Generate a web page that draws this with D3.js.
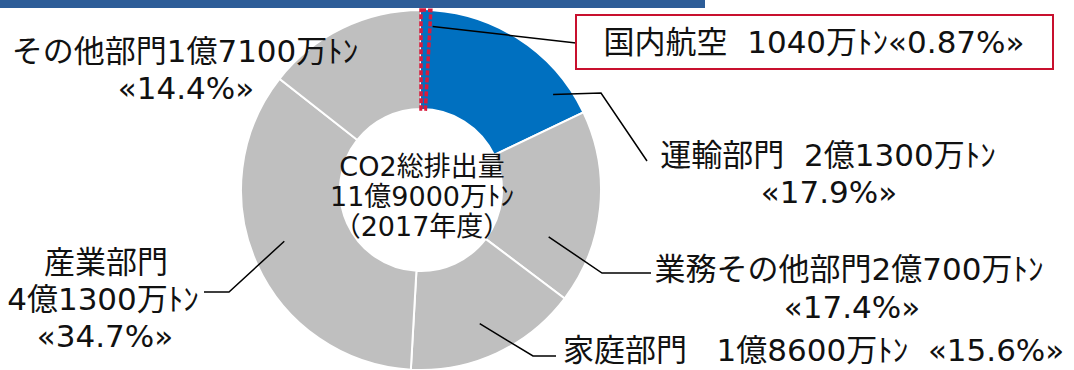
<!DOCTYPE html>
<html>
<head>
<meta charset="utf-8">
<script src="https://cdn.jsdelivr.net/npm/d3@7"></script>
<style>
  html, body { margin: 0; padding: 0; background: #fff; }
  svg { display: block; }
  text { font-family: "DejaVu Sans", "Noto Sans CJK JP", sans-serif; fill: #111; }
</style>
</head>
<body>
<svg id="chart" width="1074" height="370"></svg>
<script>
// CO2 emissions by sector, FY2017 (share of total, %)
const sectors = ["運輸部門", "業務その他部門", "家庭部門", "産業部門", "その他部門"];
const shares = [17.9, 17.4, 15.6, 34.7, 14.4];
const amounts = ["2億1300万", "2億700万", "1億8600万", "4億1300万", "1億7100万"];
const highlighted = ["運輸部門"];

// Domestic aviation, a part of the transport sector
const aviationName = "国内航空";
const aviationShare = [0.87];
const aviationAmount = "1040万";

const totalLines = ["CO2総排出量", "11億9000万ﾄﾝ", "（2017年度）"];
const unit = "ﾄﾝ";

const cx = 421, cy = 190, rOuter = 180, rInner = 81;

const svg = d3.select("#chart");

// header bar
svg.append("rect").attr("x", 0).attr("y", 0).attr("width", 705).attr("height", 8).attr("fill", "#2d5d98");

const g = svg.append("g").attr("transform", `translate(${cx},${cy})`);

const pie = d3.pie().sort(null).value(d => d.share);
const data = sectors.map((s, i) => ({ name: s, share: shares[i], amount: amounts[i] }));
const arcs = pie(data);
const arc = d3.arc().innerRadius(rInner).outerRadius(rOuter);

g.selectAll("path.slice")
  .data(arcs)
  .join("path")
  .attr("class", "slice")
  .attr("d", arc)
  .attr("fill", d => highlighted.includes(d.data.name) ? "#0070c0" : "#bfbfbf")
  .attr("stroke", "#fff")
  .attr("stroke-width", 2);

// aviation sliver, outlined in red dashes inside the transport slice
const total = d3.sum(shares);
const avEnd = aviationShare[0] / total * 2 * Math.PI;
g.append("path")
  .attr("d", d3.arc().innerRadius(rInner).outerRadius(rOuter)({ startAngle: 0, endAngle: avEnd }))
  .attr("fill", "#0070c0")
  .attr("stroke", "#d81b3c")
  .attr("stroke-width", 3.5)
  .attr("stroke-dasharray", "5,2");

// point at angle a (clockwise from 12 o'clock), radius r
function polar(a, r) {
  return [cx + r * Math.sin(a), cy - r * Math.cos(a)];
}
function inSlice(i, t, r) {
  const d = arcs[i];
  return polar(d.startAngle + (d.endAngle - d.startAngle) * t, r);
}

// centre text
const ct = svg.append("g");
[176, 206, 236].forEach((y, i) => {
  ct.append("text").attr("x", cx + 1).attr("y", y).attr("text-anchor", "middle")
    .attr("font-size", 27).text(totalLines[i]);
});

// leader lines
const line = d3.line();
const leaders = [
  [inSlice(0, 0.84, 163), [601, 93], [647, 161]],
  [inSlice(1, 0.73, 136), [602, 273], [651, 273]],
  [inSlice(2, 0.52, 146), [533, 356], [556, 356]],
  [inSlice(3, 0.53, 146), [229, 292], [204, 292]],
];
svg.selectAll("path.leader")
  .data(leaders)
  .join("path")
  .attr("class", "leader")
  .attr("d", line)
  .attr("fill", "none")
  .attr("stroke", "#000")
  .attr("stroke-width", 1.5);

// aviation callout
const avStart = polar(avEnd * 1.3, 164);
svg.append("path").attr("d", line([avStart, [576, 43]]))
  .attr("fill", "none").attr("stroke", "#000").attr("stroke-width", 1.5);
svg.append("rect").attr("x", 576).attr("y", 15).attr("width", 477).attr("height", 54)
  .attr("fill", "#fff").attr("stroke", "#c8102e").attr("stroke-width", 2);

function pct(v) { return "«" + v + "%»"; }

function label(x, y, anchor, str, fs = 31) {
  svg.append("text").attr("x", x).attr("y", y).attr("text-anchor", anchor)
    .attr("font-size", fs).attr("xml:space", "preserve").text(str);
}

label(814, 53, "middle", aviationName + "  " + aviationAmount + unit + pct(aviationShare[0]));

// 運輸
label(828, 166, "middle", sectors[0] + "  " + amounts[0] + unit);
label(829, 203, "middle", pct(shares[0]));
// 業務その他
label(849, 280, "middle", sectors[1] + amounts[1] + unit);
label(852, 318, "middle", pct(shares[1]));
// 家庭
label(563, 361, "start", sectors[2] + "   " + amounts[2] + unit + "  " + pct(shares[2]), 31);
// 産業
label(106, 273, "middle", sectors[3]);
label(103, 310, "middle", amounts[3] + unit);
label(105, 347, "middle", pct(shares[3]));
// その他
label(185, 62, "middle", sectors[4] + amounts[4] + unit);
label(186, 99, "middle", pct(shares[4]));
</script>
</body>
</html>
